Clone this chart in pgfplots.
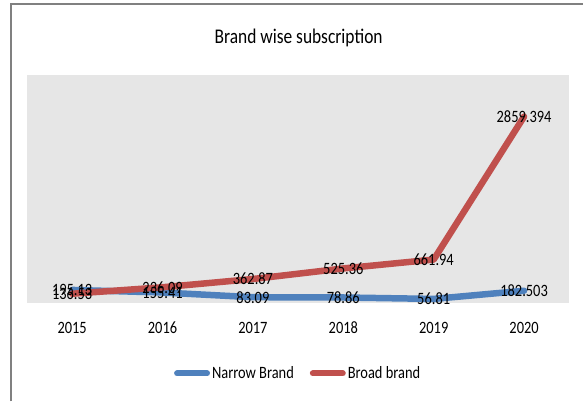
\documentclass[border=0pt]{standalone}
\usepackage{pgfplots}
\pgfplotsset{compat=1.18}
\usepackage{pgfplotstable}
\usepackage{fontspec}
\setmainfont{Carlito}
\definecolor{narrowblue}{RGB}{79,129,189}
\definecolor{broadred}{RGB}{192,80,77}
\definecolor{plotgray}{RGB}{230,230,230}
\definecolor{framegray}{RGB}{128,128,128}
\newcommand{\st}[1]{\scalebox{1}[1.2]{#1}}
\pgfplotstableread{
x y lab
0 195.13 195.13
1 155.41 155.41
2 83.09 83.09
3 78.86 78.86
4 56.81 56.81
5 182.503 182.503
}\narrowdata
\pgfplotstableread{
x y lab
0 136.53 136.53
1 236.09 236.09
2 362.87 362.87
3 525.36 525.36
4 661.94 661.94
5 2859.394 2859.394
}\broaddata
\begin{document}
\begin{tikzpicture}
\fill[white] (-27bp,-99bp) rectangle (557bp,303bp);
\draw[framegray, line width=1.5bp] (-16bp,-99bp) -- (-16bp,299bp) -- (557bp,299bp);
\node at (272bp,265bp) {\fontsize{17.5}{20}\selectfont\st{Brand wise subscription}};
\begin{axis}[
  scale only axis, width=543bp, height=228bp,
  xmin=-0.5, xmax=5.5, ymin=0, ymax=3500,
  axis background/.style={fill=plotgray},
  axis line style={draw=none},
  tick style={draw=none},
  ytick=\empty,
  xtick={0,1,2,3,4,5},
  xticklabels={\st{2015},\st{2016},\st{2017},\st{2018},\st{2019},\st{2020}},
  /pgf/number format/assume math mode=true,
  xticklabel style={font=\fontsize{14.5}{16}\selectfont, anchor=center, yshift=-25bp},
  clip=false,
  nodes near coords={\st{\pgfplotspointmeta}},
  point meta=explicit symbolic,
  every node near coord/.append style={font=\fontsize{14.5}{16}\selectfont, anchor=center, text=black},
  legend columns=2,
  legend style={at={(0.5,-0.311)}, anchor=center, draw=none, fill=none,
    font=\fontsize{14.5}{16}\selectfont,
    /tikz/every even column/.append style={column sep=14bp},
    inner sep=0pt},
  legend image code/.code={\draw[#1, line width=6bp, line cap=round] (0bp,0bp) -- (30bp,0bp);},
]
\addplot[narrowblue, line width=6.5bp, line join=round, line cap=round, mark=none] table[x=x, y=y, meta=lab] {\narrowdata};
\addlegendentry{\st{Narrow Brand}}
\addplot[broadred, line width=6.5bp, line join=round, line cap=round, mark=none] table[x=x, y=y, meta=lab] {\broaddata};
\addlegendentry{\st{Broad brand}}
\end{axis}
\end{tikzpicture}
\end{document}
